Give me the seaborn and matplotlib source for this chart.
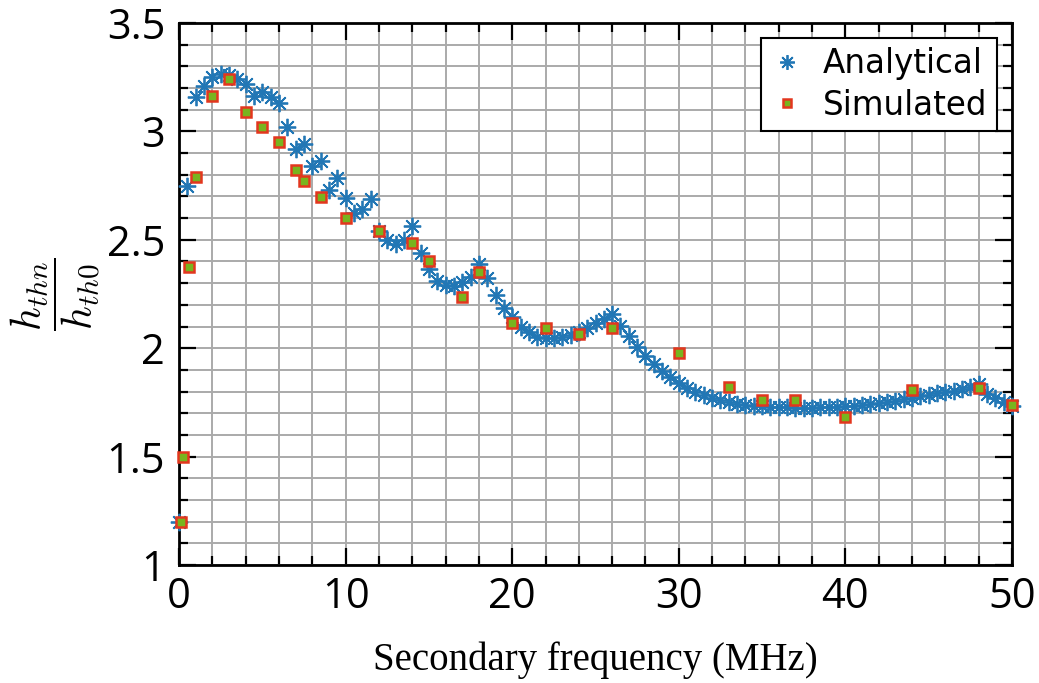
import numpy as np
import matplotlib
matplotlib.use("Agg")
import matplotlib.pyplot as plt
from matplotlib.ticker import MultipleLocator, FixedLocator
import seaborn as sns

# Analytical curve, sampled every 0.5 MHz
freq_analytical = np.arange(0, 50.01, 0.5)
ratio_analytical = [
    1.20, 2.75, 3.16, 3.21, 3.25, 3.265, 3.26, 3.24, 3.22, 3.165,
    3.18, 3.16, 3.13, 3.02, 2.92, 2.94, 2.84, 2.865, 2.73, 2.785,
    2.695, 2.625, 2.64, 2.69, 2.54, 2.50, 2.48, 2.50, 2.565, 2.44,
    2.365, 2.31, 2.29, 2.287, 2.307, 2.33, 2.387, 2.323, 2.245, 2.184,
    2.142, 2.10, 2.076, 2.053, 2.049, 2.049, 2.053, 2.061, 2.076, 2.092,
    2.115, 2.133, 2.157, 2.102, 2.056, 2.007, 1.965, 1.927, 1.896, 1.869,
    1.84, 1.818, 1.80, 1.784, 1.772, 1.761, 1.753, 1.743, 1.738, 1.735,
    1.732, 1.73, 1.728, 1.727, 1.726, 1.726, 1.726, 1.727, 1.728, 1.73,
    1.732, 1.735, 1.738, 1.742, 1.747, 1.752, 1.757, 1.765, 1.772, 1.78,
    1.786, 1.792, 1.798, 1.804, 1.81, 1.822, 1.835, 1.79, 1.77, 1.752,
    1.735,
]

# Simulated points
freq_simulated = [0.1, 0.25, 0.6, 1, 2, 3, 4, 5, 6, 7, 7.5, 8.5, 10, 12, 14,
                  15, 17, 18, 20, 22, 24, 26, 30, 33, 35, 37, 40, 44, 48, 50]
ratio_simulated = [1.20, 1.50, 2.375, 2.79, 3.163, 3.24, 3.09, 3.02, 2.953, 2.822,
                   2.773, 2.696, 2.602, 2.542, 2.487, 2.404, 2.238, 2.35, 2.118, 2.092,
                   2.066, 2.092, 1.977, 1.82, 1.761, 1.761, 1.684, 1.806, 1.818, 1.738]

x_ticks = [0, 10, 20, 30, 40, 50]
x_tick_labels = ["0", "10", "20", "30", "40", "50"]
y_ticks = [1, 1.5, 2, 2.5, 3, 3.5]
y_tick_labels = ["1", "1.5", "2", "2.5", "3", "3.5"]

plt.rcParams["mathtext.fontset"] = "cm"

fig = plt.figure(figsize=(10.39, 6.83), dpi=100)
ax = fig.add_axes([0.1723, 0.1728, 0.8017, 0.7935])

blue = "#2277b5"
sns.lineplot(x=freq_analytical, y=ratio_analytical, ax=ax, color=blue,
             marker=(8, 2, 0), markersize=12.5, markeredgewidth=1.3,
             markeredgecolor=blue, linestyle="", label="Analytical",
             estimator=None, sort=False, clip_on=False, zorder=3)
sns.lineplot(x=freq_simulated, y=ratio_simulated, ax=ax, color="#78b41e",
             marker="s", markersize=7.5, markeredgewidth=1.8,
             markeredgecolor="#e3361e", markerfacecolor="#78b41e",
             linestyle="", label="Simulated", estimator=None, sort=False,
             clip_on=False, zorder=4)

ax.set_xlim(0, 50)
ax.set_ylim(1, 3.5)
ax.xaxis.set_major_locator(FixedLocator(x_ticks))
ax.yaxis.set_major_locator(FixedLocator(y_ticks))
ax.xaxis.set_minor_locator(MultipleLocator(2))
ax.yaxis.set_minor_locator(MultipleLocator(0.1))
ax.set_xticklabels(x_tick_labels, fontfamily=["Open Sans", "DejaVu Sans"], fontsize=30)
ax.set_yticklabels(y_tick_labels, fontfamily=["Open Sans", "DejaVu Sans"], fontsize=30)

ax.grid(which="both", color="#aaaaaa", linewidth=1.4)
ax.set_axisbelow(True)
ax.tick_params(which="both", direction="in", top=True, right=True,
               width=1.6, color="black")
ax.tick_params(which="major", length=12)
ax.tick_params(which="minor", length=6.5)
ax.tick_params(axis="x", which="major", pad=8)
ax.tick_params(axis="y", which="major", pad=10)
for side in ax.spines.values():
    side.set_linewidth(2)
    side.set_color("black")

ax.set_xlabel("Secondary frequency (MHz)", fontfamily="Liberation Serif",
              fontsize=28, va="center")
ax.xaxis.set_label_coords(0.5, -0.175)
ax.set_ylabel(r"$\dfrac{h_{thn}}{h_{th0}}$", fontsize=30, va="center")
ax.yaxis.set_label_coords(-0.148, 0.5)

leg = ax.legend(loc="upper right", fontsize=23.5, frameon=True, fancybox=False,
                framealpha=1, edgecolor="black", borderaxespad=0.45,
                handlelength=1.0, handletextpad=0.6, borderpad=0.3,
                labelspacing=0.25, markerscale=0.85)
leg.get_frame().set_linewidth(1.5)
leg.set_zorder(10)
for t in leg.get_texts():
    t.set_fontfamily("DejaVu Sans")

fig.savefig("out.png", dpi=100)
